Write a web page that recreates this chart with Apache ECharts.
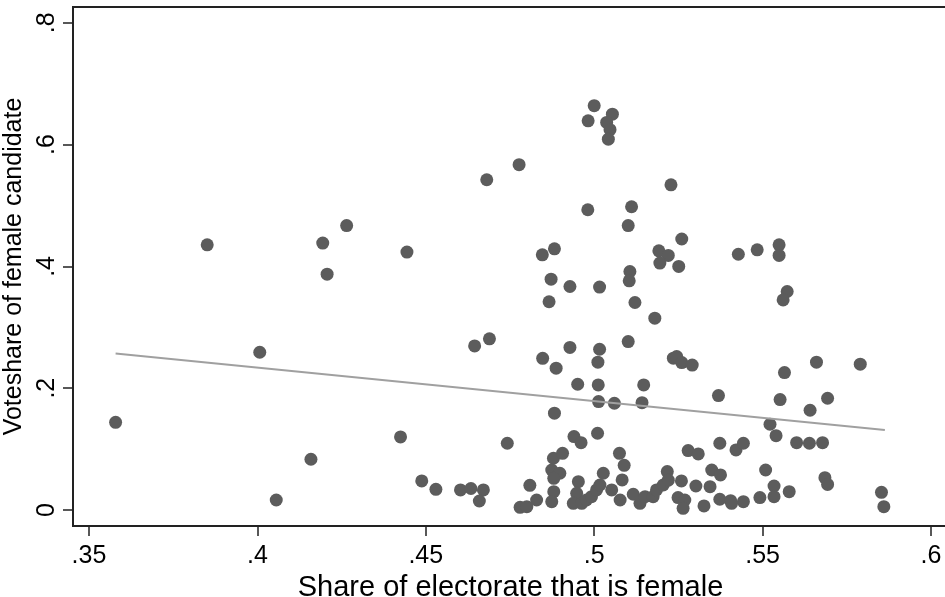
<!DOCTYPE html>
<html>
<head>
<meta charset="utf-8">
<script src="https://cdn.jsdelivr.net/npm/echarts@6/dist/echarts.min.js"></script>
<style>
  html, body { margin: 0; padding: 0; background: #fff; }
  #chart { width: 945px; height: 597px; }
</style>
</head>
<body>
<div id="chart"></div>
<script>
// share of electorate that is female (x), voteshare of female candidate (y)
const femaleShare = [
  0.3579, 0.3851, 0.4007, 0.4056, 0.4159, 0.4194, 0.4207, 0.4265, 0.4425, 0.4444,
  0.4488, 0.4530, 0.4603, 0.4634, 0.4671, 0.4659, 0.4645, 0.4689, 0.4681, 0.4742,
  0.4777, 0.4780, 0.4800, 0.4809, 0.4829, 0.4846, 0.4882, 0.4872, 0.4866, 0.4847,
  0.4887, 0.4882, 0.4879, 0.4906, 0.4874, 0.4898, 0.4880, 0.4880, 0.4874, 0.4928,
  0.4928, 0.4951, 0.4940, 0.4961, 0.4953, 0.4948, 0.4938, 0.4963, 0.4977, 0.4992,
  0.5007, 0.5017, 0.4981, 0.4982, 0.5000, 0.5054, 0.5037, 0.5047, 0.5042, 0.5016,
  0.5016, 0.5011, 0.5012, 0.5013, 0.5010, 0.5027, 0.5052, 0.5077, 0.5060, 0.5075,
  0.5089, 0.5083, 0.5101, 0.5101, 0.5111, 0.5106, 0.5104, 0.5121, 0.5180, 0.5147,
  0.5142, 0.5116, 0.5136, 0.5151, 0.5175, 0.5185, 0.5205, 0.5217, 0.5220, 0.5192,
  0.5220, 0.5195, 0.5251, 0.5260, 0.5228, 0.5235, 0.5245, 0.5260, 0.5291, 0.5279,
  0.5309, 0.5259, 0.5249, 0.5269, 0.5264, 0.5302, 0.5326, 0.5344, 0.5349, 0.5375,
  0.5373, 0.5369, 0.5421, 0.5443, 0.5373, 0.5405, 0.5408, 0.5443, 0.5492, 0.5428,
  0.5484, 0.5549, 0.5549, 0.5573, 0.5561, 0.5509, 0.5522, 0.5540, 0.5552, 0.5565,
  0.5534, 0.5534, 0.5579, 0.5601, 0.5639, 0.5641, 0.5660, 0.5678, 0.5693, 0.5685,
  0.5693, 0.5790, 0.5853, 0.5860
];
const voteShare = [
  0.144, 0.4355, 0.259, 0.0164, 0.0833, 0.4383, 0.3873, 0.467, 0.120, 0.4235,
  0.0477, 0.034, 0.0329, 0.0353, 0.0329, 0.0148, 0.2695, 0.281, 0.5423, 0.1096,
  0.567, 0.0044, 0.0055, 0.0405, 0.0164, 0.419, 0.4289, 0.379, 0.342, 0.249,
  0.2329, 0.159, 0.085, 0.093, 0.0657, 0.0603, 0.052, 0.030, 0.0136, 0.367,
  0.267, 0.2065, 0.1205, 0.1106, 0.0465, 0.0274, 0.011, 0.011, 0.0164, 0.0219,
  0.0329, 0.041, 0.493, 0.639, 0.664, 0.650, 0.6365, 0.6245, 0.609, 0.366,
  0.264, 0.2427, 0.2054, 0.178, 0.126, 0.0603, 0.0329, 0.0164, 0.1753, 0.093,
  0.0734, 0.0493, 0.2766, 0.467, 0.498, 0.3916, 0.3763, 0.3407, 0.315, 0.2054,
  0.1763, 0.0258, 0.011, 0.0219, 0.0219, 0.0329, 0.041, 0.063, 0.049, 0.4256,
  0.418, 0.4055, 0.400, 0.445, 0.534, 0.2493, 0.252, 0.242, 0.238, 0.0975,
  0.092, 0.0477, 0.0203, 0.0164, 0.0028, 0.0394, 0.0066, 0.0383, 0.0657, 0.0575,
  0.1096, 0.1879, 0.0986, 0.1096, 0.0176, 0.0153, 0.011, 0.0136, 0.0203, 0.420,
  0.4273, 0.4355, 0.418, 0.3588, 0.345, 0.0657, 0.1408, 0.122, 0.1813, 0.2257,
  0.0394, 0.0219, 0.030, 0.1106, 0.1096, 0.1638, 0.2427, 0.1106, 0.1835, 0.053,
  0.042, 0.2394, 0.029, 0.0055
];

// linear fit endpoints
const fitX = [0.3579, 0.5863];
const fitY = [0.2569, 0.1315];

const xTicks = [0.35, 0.4, 0.45, 0.5, 0.55, 0.6];
const yTicks = [0, 0.2, 0.4, 0.6, 0.8];

const fmt = v => v === 0 ? '0' : String(+v.toFixed(2)).replace(/^0/, '');
const font = 'Liberation Sans, Arial, sans-serif';
const ink = '#222';

const chart = echarts.init(document.getElementById('chart'));

chart.setOption({
  animation: false,
  backgroundColor: '#fff',
  grid: {
    left: 73, top: 7, right: -3, bottom: 71,
    outerBoundsMode: 'none',
    containLabel: false,
    show: true, borderColor: ink, borderWidth: 2
  },
  xAxis: {
    type: 'value',
    min: 0.34525, max: 0.60505,
    name: 'Share of electorate that is female',
    nameLocation: 'middle',
    nameGap: 31,
    nameTextStyle: { fontFamily: font, fontSize: 29, color: '#000' },
    axisLine: { show: true, onZero: false, lineStyle: { color: ink, width: 2 } },
    axisTick: { show: true, length: 10, customValues: xTicks, lineStyle: { color: ink, width: 1.5 } },
    axisLabel: { customValues: xTicks, formatter: fmt, margin: 18, fontFamily: font, fontSize: 25, color: '#000' },
    splitLine: { show: false }
  },
  yAxis: {
    type: 'value',
    min: -0.0263, max: 0.826,
    name: 'Voteshare of female candidate',
    nameLocation: 'middle',
    nameGap: 25,
    nameTextStyle: { fontFamily: font, fontSize: 25, color: '#000' },
    axisLine: { show: true, onZero: false, lineStyle: { color: ink, width: 2 } },
    axisTick: { show: true, length: 10, customValues: yTicks, lineStyle: { color: ink, width: 1.5 } },
    axisLabel: { customValues: yTicks, formatter: fmt, rotate: 90, margin: 13, fontFamily: font, fontSize: 25, color: '#000' },
    splitLine: { show: false }
  },
  series: [
    {
      type: 'scatter',
      data: femaleShare.map((x, i) => [x, voteShare[i]]),
      symbol: 'circle',
      symbolSize: 13,
      itemStyle: { color: '#5c5c5c', opacity: 1 },
      z: 2
    },
    {
      type: 'line',
      data: fitX.map((x, i) => [x, fitY[i]]),
      showSymbol: false,
      lineStyle: { color: '#a0a0a0', width: 2 },
      z: 3
    }
  ]
});
</script>
</body>
</html>
